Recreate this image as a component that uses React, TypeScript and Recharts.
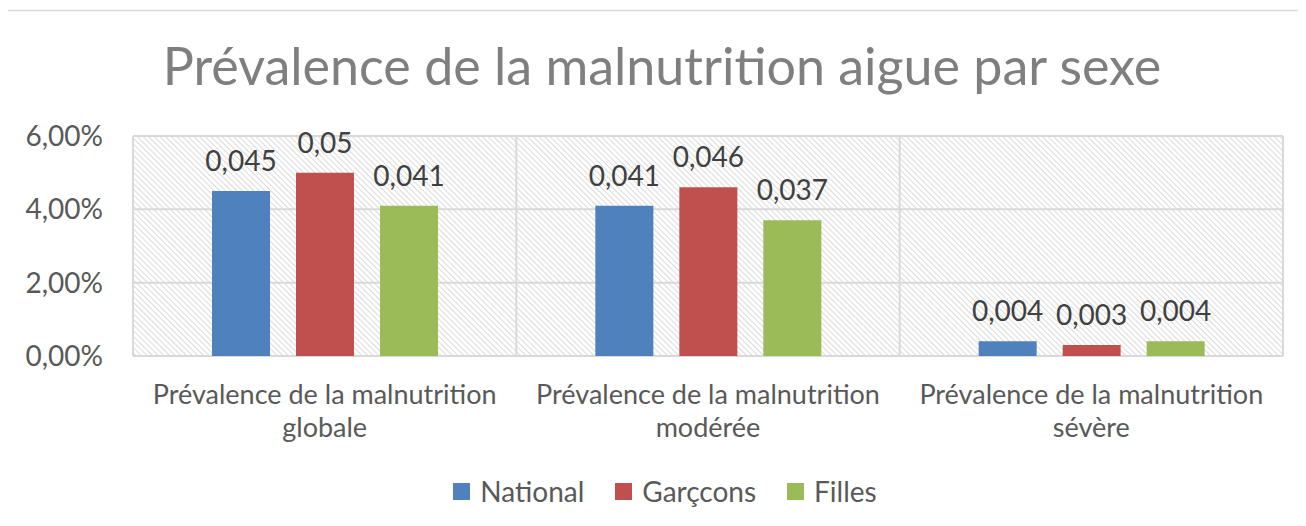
import React from "react";
import {
  BarChart,
  Bar,
  XAxis,
  YAxis,
  CartesianGrid,
  Legend,
  LabelList,
} from "recharts";

const categories = [
  "Prévalence de la malnutrition globale",
  "Prévalence de la malnutrition modérée",
  "Prévalence de la malnutrition sévère",
];
const national = [0.045, 0.041, 0.004];
const garcons = [0.05, 0.046, 0.003];
const filles = [0.041, 0.037, 0.004];
const yTicks = [0, 0.02, 0.04, 0.06];

const series = [
  { key: "national", name: "National", color: "#4f81bd" },
  { key: "garcons", name: "Garçcons", color: "#c0504d" },
  { key: "filles", name: "Filles", color: "#9bbb59" },
];

const data = categories.map((cat, i) => ({
  cat,
  national: national[i],
  garcons: garcons[i],
  filles: filles[i],
}));

const FONT = "Lato, 'Open Sans', sans-serif";
const W = 1306;
const H = 526;

const pct = (v: number) => (v * 100).toFixed(2).replace(".", ",") + "%";
const dec = (v: any) => String(v).replace(".", ",");

// wrap category on the last word, like Excel does here
function CategoryTick(props: any) {
  const { x, y, payload } = props;
  const words = String(payload.value).split(" ");
  const last = words.pop();
  return (
    <text
      x={x}
      y={y}
      textAnchor="middle"
      fill="#595959"
      fontSize={27}
      fontFamily={FONT}
    >
      <tspan x={x} dy={19}>
        {words.join(" ")}
      </tspan>
      <tspan x={x} dy={33}>
        {last}
      </tspan>
    </text>
  );
}

function renderLegend() {
  return (
    <div
      style={{
        display: "flex",
        justifyContent: "center",
        gap: 31,
        height: 30,
        alignItems: "center",
        fontFamily: FONT,
        fontSize: 28,
        color: "#595959",
      }}
    >
      {series.map((s) => (
        <div key={s.key} style={{ display: "flex", alignItems: "center" }}>
          <span
            style={{
              display: "inline-block",
              width: 17,
              height: 17,
              background: s.color,
              marginRight: 10,
            }}
          />
          <span>{s.name}</span>
        </div>
      ))}
    </div>
  );
}

export default function App() {
  return (
    <div style={{ position: "relative", width: W, height: H, margin: -8, overflow: "hidden", background: "#fff" }}>
      <svg width={W} height={H} style={{ position: "absolute", left: 0, top: 0 }}>
        <line x1={6.5} y1={10} x2={6.5} y2={H} stroke="#d9d9d9" strokeWidth={1.5} />
        <line x1={6} y1={10.5} x2={W} y2={10.5} stroke="#d9d9d9" strokeWidth={1.5} />
        <text
          x={662}
          y={85}
          textAnchor="middle"
          fill="#7f7f7f"
          fontSize={52}
          fontFamily={FONT}
        >
          Prévalence de la malnutrition aigue par sexe
        </text>
      </svg>
      <div style={{ position: "absolute", left: 0, top: 0 }}>
        <BarChart
          width={W}
          height={H}
          data={data}
          margin={{ top: 136, right: 23, left: 0, bottom: 20 }}
          barSize={58}
          barGap={26}
        >
          <defs>
            <pattern
              id="hatch"
              width="4"
              height="4"
              patternUnits="userSpaceOnUse"
              patternTransform="rotate(-45)"
            >
              <rect width="4" height="4" fill="#ffffff" />
              <line x1="0" y1="0" x2="0" y2="4" stroke="#cfcfcf" strokeWidth={1.5} />
            </pattern>
          </defs>
          <CartesianGrid
            fill="url(#hatch)"
            stroke="#d9d9d9"
            strokeWidth={2}
            verticalCoordinatesGenerator={({ offset }: any) => [
              offset.left,
              offset.left + offset.width / 3,
              offset.left + (2 * offset.width) / 3,
              offset.left + offset.width,
            ]}
          />
          <XAxis
            dataKey="cat"
            axisLine={false}
            tickLine={false}
            height={120}
            tickMargin={23}
            interval={0}
            tick={<CategoryTick />}
          />
          <YAxis
            domain={[0, 0.06]}
            ticks={yTicks}
            width={133}
            axisLine={false}
            tickLine={false}
            tickMargin={24}
            tickFormatter={pct}
            tick={{ fill: "#595959", fontSize: 28, fontFamily: FONT }}
          />
          <Legend
            verticalAlign="bottom"
            content={renderLegend}
            wrapperStyle={{ left: 0, width: 1330 }}
          />
          {series.map((s) => (
            <Bar
              key={s.key}
              dataKey={s.key}
              name={s.name}
              fill={s.color}
              isAnimationActive={false}
            >
              <LabelList
                dataKey={s.key}
                position="top"
                offset={20}
                formatter={dec}
                fill="#404040"
                fontSize={28}
                fontFamily={FONT}
              />
            </Bar>
          ))}
        </BarChart>
      </div>
    </div>
  );
}
